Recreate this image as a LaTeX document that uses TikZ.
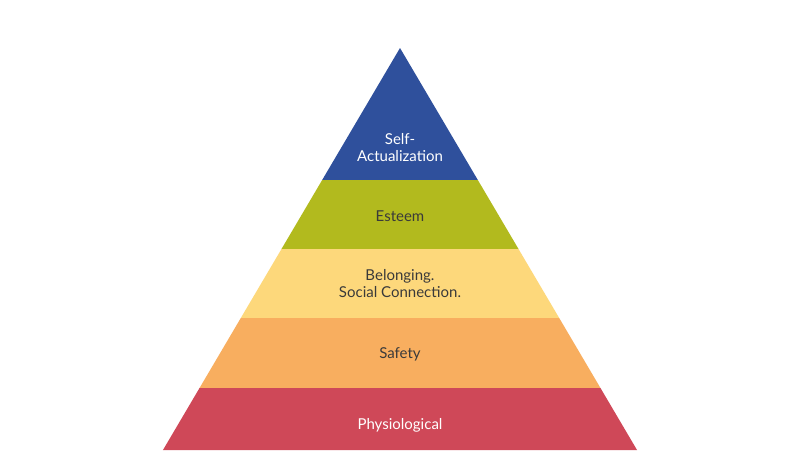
\documentclass[tikz,border=0pt]{standalone}
\usepackage{fontspec}
\setmainfont{Lato}
\definecolor{cblue}{HTML}{2F509C}
\definecolor{cgreen}{HTML}{B2BA1E}
\definecolor{cyellow}{HTML}{FDD87B}
\definecolor{corange}{HTML}{F8AE5F}
\definecolor{cred}{HTML}{CF4858}
\definecolor{ctext}{HTML}{3A3A3A}
\tikzset{lbl/.style={font=\fontsize{15}{17}\selectfont, align=center, text=ctext},
 wlbl/.style={lbl, text=white}}
\begin{document}
\begin{tikzpicture}[x=1pt,y=-1pt]
\useasboundingbox[fill=white] (0,0) rectangle (800,450);
\def\hw#1{(#1-48)*0.5896}
\pgfmathsetmacro\a{132*0.5896}
\pgfmathsetmacro\b{201*0.5896}
\pgfmathsetmacro\c{270*0.5896}
\pgfmathsetmacro\d{340*0.5896}
\pgfmathsetmacro\e{402*0.5896}
\fill[cblue] (400,48) -- (400+\a,180) -- (400-\a,180) -- cycle;
\fill[cgreen] (400-\a,180) -- (400+\a,180) -- (400+\b,249) -- (400-\b,249) -- cycle;
\fill[cyellow] (400-\b,249) -- (400+\b,249) -- (400+\c,318) -- (400-\c,318) -- cycle;
\fill[corange] (400-\c,318) -- (400+\c,318) -- (400+\d,388) -- (400-\d,388) -- cycle;
\fill[cred] (400-\d,388) -- (400+\d,388) -- (400+\e,450) -- (400-\e,450) -- cycle;
\node[wlbl] (sa) at (400,148) {Self-\\Actualization};
\node[lbl] (es) at (400,216) {Esteem};
\node[lbl] (be) at (400,284) {Belonging.\\Social Connection.};
\node[lbl] (sf) at (400,354) {Safety};
\node[wlbl] (ph) at (400,425) {Physiological};
\end{tikzpicture}
\end{document}
